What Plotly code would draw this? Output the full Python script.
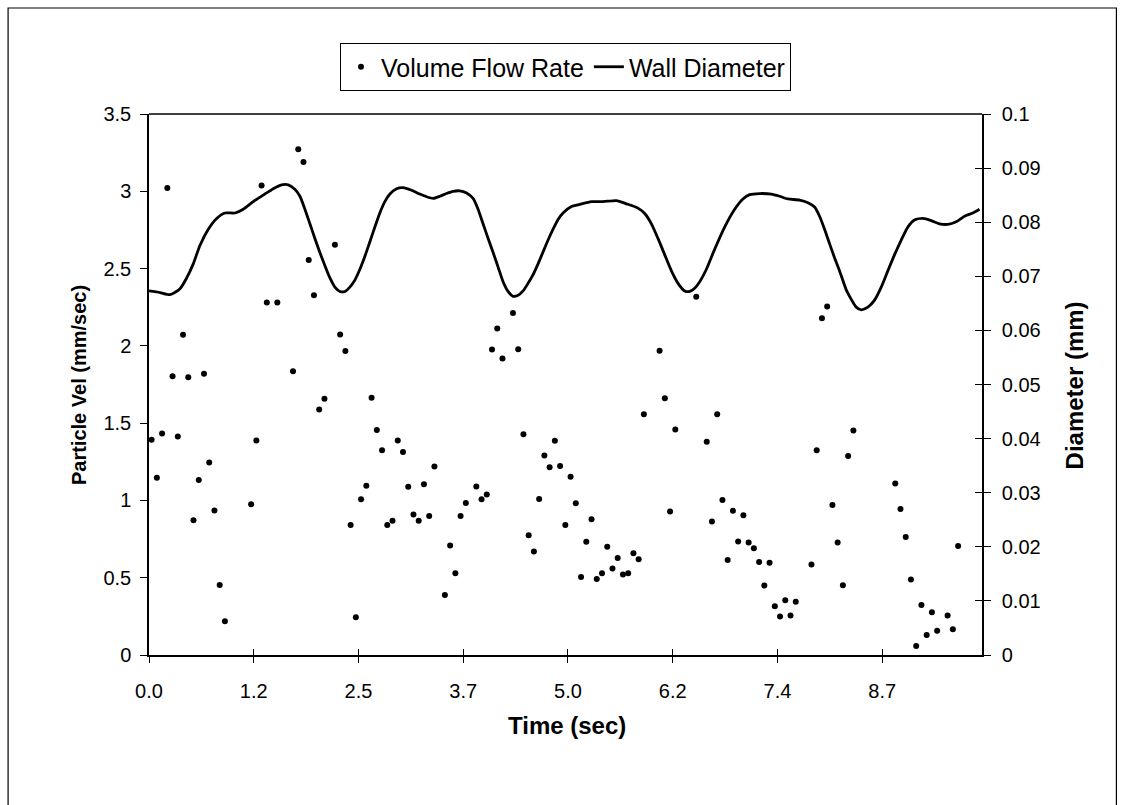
import plotly.graph_objects as go

# ---------------- data ----------------
DT = 0.062  # sample interval (s)

# Volume flow rate (particle velocity, mm/sec) : sample index -> value
flow_idx = [0, 1, 2, 3, 4, 5, 6, 7, 8, 9, 10, 11, 12, 13, 14,
            19, 20, 21, 22, 24, 27, 28, 29, 30, 31, 32, 33,
            35, 36, 37, 38, 39, 40, 41, 42, 43, 44, 45, 46, 47, 48, 49, 50, 51, 52, 53, 54,
            56, 57, 58, 59, 60, 62, 63, 64, 65, 66, 67, 69, 70, 71, 72, 73, 74, 75, 76, 77,
            78, 79, 80, 81, 82, 83, 84, 85, 86, 87, 88, 89, 90, 91, 92, 93, 94,
            97, 98, 99, 100, 104, 106, 107, 108, 109, 110, 111, 112, 113, 114, 115, 116,
            117, 118, 119, 120, 121, 122, 123, 126, 127, 128, 129, 130, 131, 132, 133, 134,
            142, 143, 144, 145, 146, 147, 148, 149, 150, 152, 153, 154]
flow_val = [1.393, 1.146, 1.433, 3.021, 1.804, 1.414, 2.072, 1.797, 0.871, 1.132, 1.820, 1.245, 0.935, 0.453, 0.218,
            0.975, 1.388, 3.037, 2.281, 2.281, 1.835, 3.272, 3.190, 2.556, 2.328, 1.588, 1.658,
            2.654, 2.074, 1.966, 0.841, 0.244, 1.008, 1.095, 1.665, 1.456, 1.325, 0.841, 0.869, 1.388, 1.313, 1.088, 0.909, 0.869, 1.104, 0.900, 1.219,
            0.388, 0.709, 0.529, 0.900, 0.984, 1.090, 1.008, 1.038, 1.976, 2.112, 1.919, 2.213, 1.978, 1.428, 0.775, 0.669, 1.010, 1.290, 1.214, 1.386,
            1.222, 0.841, 1.153, 0.982, 0.505, 0.733, 0.879, 0.491, 0.529, 0.700, 0.559, 0.627, 0.521, 0.529, 0.658, 0.620, 1.557,
            1.968, 1.661, 0.928, 1.459, 2.318, 1.379, 0.864, 1.557, 1.003, 0.615, 0.933, 0.735, 0.904, 0.728, 0.691, 0.601,
            0.449, 0.597, 0.315, 0.249, 0.355, 0.256, 0.345, 0.585, 1.325, 2.178, 2.255, 0.970, 0.728, 0.451, 1.287, 1.452,
            1.109, 0.944, 0.763, 0.489, 0.059, 0.324, 0.129, 0.277, 0.157, 0.256, 0.167, 0.705]
flow_time = [(i + 0.5) * DT for i in flow_idx]

# Wall diameter (mm) vs time (s)
wall_time = [0.000, 0.130, 0.248, 0.367, 0.446, 0.524, 0.603, 0.702, 0.801, 0.899, 1.018, 1.116, 1.234,
             1.352, 1.471, 1.570, 1.648, 1.727, 1.787, 1.846, 1.905, 1.964, 2.023, 2.082, 2.142, 2.201,
             2.260, 2.319, 2.378, 2.437, 2.497, 2.556, 2.615, 2.674, 2.733, 2.792, 2.852, 2.931, 3.009,
             3.108, 3.207, 3.286, 3.364, 3.443, 3.522, 3.600, 3.680, 3.759, 3.837, 3.896, 3.955, 4.015,
             4.074, 4.133, 4.192, 4.251, 4.310, 4.370, 4.429, 4.488, 4.547, 4.606, 4.665, 4.725, 4.784,
             4.843, 4.902, 5.001, 5.100, 5.238, 5.375, 5.534, 5.652, 5.789, 5.869, 5.948, 6.026, 6.105,
             6.185, 6.263, 6.342, 6.401, 6.460, 6.520, 6.599, 6.697, 6.815, 6.934, 7.032, 7.111, 7.229,
             7.368, 7.466, 7.564, 7.703, 7.801, 7.880, 7.939, 7.998, 8.058, 8.117, 8.176, 8.255, 8.294,
             8.373, 8.433, 8.511, 8.590, 8.669, 8.747, 8.827, 8.906, 8.984, 9.063, 9.162, 9.261, 9.359,
             9.457, 9.557, 9.655, 9.753, 9.832]
wall_diam = [0.0673, 0.0670, 0.0666, 0.0677, 0.0697, 0.0723, 0.0757, 0.0787, 0.0807, 0.0817, 0.0817, 0.0824, 0.0838,
             0.0850, 0.0862, 0.0869, 0.0869, 0.0861, 0.0848, 0.0824, 0.0797, 0.0770, 0.0744, 0.0720, 0.0697, 0.0680,
             0.0672, 0.0672, 0.0680, 0.0693, 0.0713, 0.0737, 0.0764, 0.0791, 0.0817, 0.0838, 0.0852, 0.0862, 0.0864,
             0.0859, 0.0852, 0.0847, 0.0844, 0.0848, 0.0853, 0.0857, 0.0858, 0.0854, 0.0844, 0.0824, 0.0797, 0.0770,
             0.0744, 0.0717, 0.0690, 0.0672, 0.0663, 0.0665, 0.0673, 0.0687, 0.0703, 0.0723, 0.0745, 0.0767, 0.0787,
             0.0805, 0.0817, 0.0829, 0.0833, 0.0838, 0.0838, 0.0840, 0.0834, 0.0826, 0.0816, 0.0797, 0.0770, 0.0740,
             0.0710, 0.0687, 0.0673, 0.0672, 0.0678, 0.0690, 0.0713, 0.0750, 0.0791, 0.0824, 0.0843, 0.0851, 0.0853,
             0.0852, 0.0848, 0.0843, 0.0841, 0.0836, 0.0828, 0.0811, 0.0787, 0.0760, 0.0734, 0.0710, 0.0675, 0.0663,
             0.0643, 0.0638, 0.0643, 0.0656, 0.0680, 0.0710, 0.0740, 0.0767, 0.0791, 0.0804, 0.0807, 0.0803, 0.0797,
             0.0796, 0.0801, 0.0811, 0.0817, 0.0824]

x_tick_vals = [0.0, 1.24, 2.48, 3.72, 4.96, 6.20, 7.44, 8.68]
x_tick_text = ["0.0", "1.2", "2.5", "3.7", "5.0", "6.2", "7.4", "8.7"]
X_MAX = 9.862

FONT = "Liberation Sans, Arial, sans-serif"

fig = go.Figure()
fig.add_trace(go.Scatter(
    x=flow_time, y=flow_val, mode="markers", name="Volume Flow Rate",
    marker=dict(color="black", size=6, symbol="circle"), yaxis="y", xaxis="x"))
fig.add_trace(go.Scatter(
    x=wall_time, y=wall_diam, mode="lines", name="Wall Diameter",
    line=dict(color="black", width=2.8, shape="spline", smoothing=0.6), yaxis="y2", xaxis="x"))
# helper traces so that overlay axes (inner half of crossing tick marks) render
fig.add_trace(go.Scatter(x=[None], y=[None], xaxis="x3", yaxis="y", showlegend=False, hoverinfo="skip"))
fig.add_trace(go.Scatter(x=[None], y=[None], xaxis="x", yaxis="y3", showlegend=False, hoverinfo="skip"))

L, R, T, B = 149, 1125 - 982.5, 114, 805 - 655
PW, PH = 1125 - L - R, 805 - T - B

def px(x):
    return (x - L) / PW

def py(y):
    return (805 - B - y) / PH

tickfont = dict(family=FONT, size=20, color="black")

fig.update_layout(
    width=1125, height=805,
    margin=dict(l=L, r=R, t=T, b=B, pad=0, autoexpand=False),
    paper_bgcolor="white", plot_bgcolor="white",
    showlegend=True,
    legend=dict(orientation="h", x=0.5, xanchor="center", y=py(43), yanchor="top",
                bordercolor="black", borderwidth=1, bgcolor="white",
                font=dict(family=FONT, size=25, color="black"),
                itemwidth=30, tracegroupgap=0),
    xaxis=dict(range=[0, X_MAX], tickmode="array", tickvals=x_tick_vals, ticktext=x_tick_text,
               showgrid=False, zeroline=False, showline=True, linecolor="black", linewidth=1.5,
               ticks="outside", ticklen=6, tickwidth=1, tickcolor="black",
               tickfont=tickfont, ticklabelstandoff=11, mirror=False),
    xaxis3=dict(range=[0, X_MAX], tickmode="array", tickvals=x_tick_vals, overlaying="x", anchor="y",
                showticklabels=False, showgrid=False, zeroline=False, showline=False,
                ticks="inside", ticklen=6, tickwidth=1, tickcolor="black"),
    yaxis=dict(range=[0, 3.5], dtick=0.5, tick0=0, showgrid=False, zeroline=False,
               showline=True, linecolor="black", linewidth=1.5,
               ticks="outside", ticklen=7, tickwidth=1, tickcolor="black",
               tickfont=tickfont, ticklabelstandoff=5),
    yaxis2=dict(range=[0, 0.1], dtick=0.01, tick0=0, overlaying="y", side="right", anchor="x",
                showgrid=False, zeroline=False, showline=True, linecolor="black", linewidth=1.5,
                ticks="outside", ticklen=7, tickwidth=1, tickcolor="black",
                tickfont=tickfont, ticklabelstandoff=7),
    yaxis3=dict(range=[0, 0.1], dtick=0.01, tick0=0, overlaying="y", side="right", anchor="x",
                showticklabels=False, showgrid=False, zeroline=False, showline=False,
                ticks="inside", ticklen=7, tickwidth=1, tickcolor="black"),
)

# top border of plot area
fig.add_shape(type="line", xref="paper", yref="paper", x0=0, x1=1, y0=1, y1=1,
              line=dict(color="black", width=1.5))
# outer chart border
fig.add_shape(type="rect", xref="paper", yref="paper",
              x0=px(8), x1=px(1117), y0=py(820), y1=py(8),
              line=dict(color="black", width=1.2), fillcolor="rgba(0,0,0,0)", layer="below")

fig.add_annotation(text="<b>Particle Vel (mm/sec)</b>", xref="paper", yref="paper",
                   x=px(79), y=py(385), textangle=-90, showarrow=False,
                   font=dict(family=FONT, size=20, color="black"),
                   xanchor="center", yanchor="middle")
fig.add_annotation(text="<b>Diameter (mm)</b>", xref="paper", yref="paper",
                   x=px(1075), y=py(385), textangle=-90, showarrow=False,
                   font=dict(family=FONT, size=24, color="black"),
                   xanchor="center", yanchor="middle")
fig.add_annotation(text="<b>Time (sec)</b>", xref="paper", yref="paper",
                   x=px(567), y=py(725), showarrow=False,
                   font=dict(family=FONT, size=24, color="black"),
                   xanchor="center", yanchor="middle")

fig.write_html("out.html")
